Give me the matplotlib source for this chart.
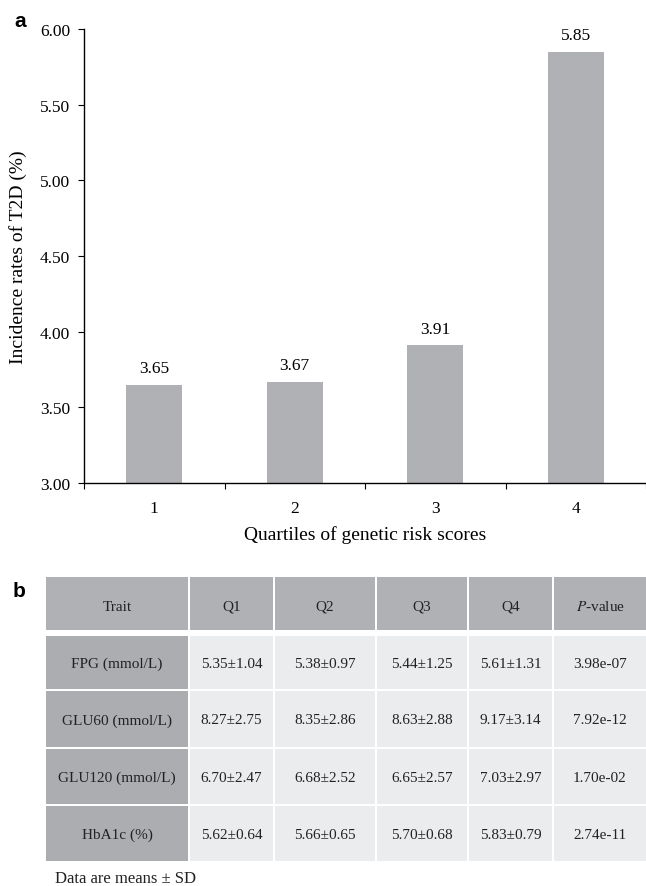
import numpy as np
import matplotlib.pyplot as plt
from matplotlib.patches import Rectangle

# datos del panel a
cuartiles = [1, 2, 3, 4]
incidencia = [3.65, 3.67, 3.91, 5.85]

# datos del panel b
encabezados = ['Trait', 'Q1', 'Q2', 'Q3', 'Q4', r'$\it{P}$-value']
rasgos = ['FPG (mmol/L)', 'GLU60 (mmol/L)', 'GLU120 (mmol/L)', 'HbA1c (%)']
q1 = ['5.35±1.04', '8.27±2.75', '6.70±2.47', '5.62±0.64']
q2 = ['5.38±0.97', '8.35±2.86', '6.68±2.52', '5.66±0.65']
q3 = ['5.44±1.25', '8.63±2.88', '6.65±2.57', '5.70±0.68']
q4 = ['5.61±1.31', '9.17±3.14', '7.03±2.97', '5.83±0.79']
pvalores = ['3.98e-07', '7.92e-12', '1.70e-02', '2.74e-11']

plt.rcParams['font.family'] = ['Liberation Serif', 'DejaVu Serif']
plt.rcParams['mathtext.fontset'] = 'stix'

W, H = 646, 887
fig = plt.figure(figsize=(W / 100, H / 100), dpi=100)

# ---- panel a: barras ----
ax = fig.add_axes([84 / W, 1 - 484 / H, 562 / W, 454 / H])
gris = '#b0b1b5'
ax.bar(cuartiles, incidencia, width=0.40, color=gris, zorder=2)
ax.set_ylim(3.0, 6.0)
ax.set_xlim(0.5, 0.5 + 562 / 141.5)
ax.set_yticks(np.arange(3.0, 6.01, 0.5))
ax.set_yticklabels([f'{v:.2f}' for v in np.arange(3.0, 6.01, 0.5)], fontsize=12.5)
ax.set_xticks(cuartiles)
ax.set_xticklabels([str(c) for c in cuartiles], fontsize=12.5)
ax.set_xticks([0.5, 1.5, 2.5, 3.5, 4.5], minor=True)
ax.tick_params(axis='x', which='major', length=0, pad=12)
ax.tick_params(axis='x', which='minor', length=4, width=0.8)
ax.tick_params(axis='y', length=4, width=0.8, pad=6)
for s in ['top', 'right']:
    ax.spines[s].set_visible(False)
ax.spines['left'].set_linewidth(1.0)
ax.spines['bottom'].set_linewidth(1.0)
for x, v in zip(cuartiles, incidencia):
    ax.annotate(f'{v:.2f}', (x, v), xytext=(0, 6), textcoords='offset points',
                ha='center', va='bottom', fontsize=12.5)
ax.set_xlabel('Quartiles of genetic risk scores', fontsize=14, labelpad=7)
ax.set_ylabel('Incidence rates of T2D (%)', fontsize=14, labelpad=9)

fig.text(14 / W, 1 - 27 / H, 'a', fontsize=15, fontweight='bold',
         family='Liberation Sans')
fig.text(13 / W, 1 - 597 / H, 'b', fontsize=15, fontweight='bold',
         family='Liberation Sans')

# ---- panel b: tabla ----
tb = fig.add_axes([0, 0, 1, 1])
tb.set_xlim(0, W)
tb.set_ylim(H, 0)
tb.axis('off')

col_x = [46, 190, 275, 377, 469, 554]
col_w = [142, 83, 100, 90, 83, 92]
fila_y = [578, 637, 692, 750, 807]
fila_h = [53, 53, 56, 55, 55]

columnas = [rasgos, q1, q2, q3, q4, pvalores]
for j, enc in enumerate(encabezados):
    tb.add_patch(Rectangle((col_x[j], fila_y[0]), col_w[j], fila_h[0], color=gris, lw=0))
    tb.text(col_x[j] + col_w[j] / 2, fila_y[0] + fila_h[0] / 2 + 3, enc,
            ha='center', va='center', fontsize=11, color='#222222')
for i in range(len(rasgos)):
    y0 = fila_y[i + 1]
    h = fila_h[i + 1]
    for j, col in enumerate(columnas):
        c = '#acadb1' if j == 0 else '#ebecee'
        tb.add_patch(Rectangle((col_x[j], y0), col_w[j], h, color=c, lw=0))
        tb.text(col_x[j] + col_w[j] / 2, y0 + h / 2 + 1, col[i],
                ha='center', va='center', fontsize=11, color='#222222')

tb.text(55, 879, 'Data are means ± SD', ha='left', va='center', fontsize=12,
        color='#222222')

fig.savefig('out.png', dpi=100)
